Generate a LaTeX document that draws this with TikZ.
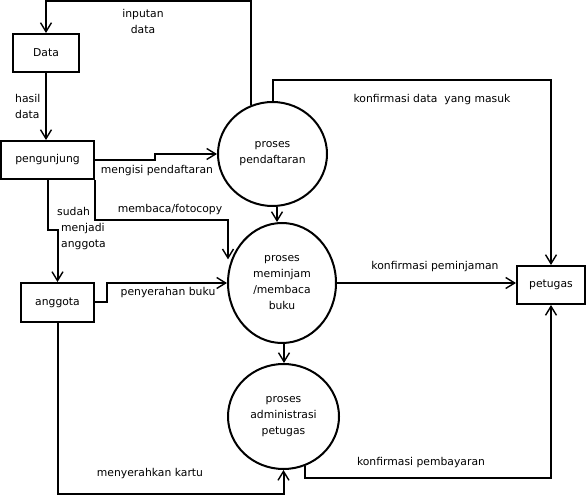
\documentclass[tikz,border=0pt]{standalone}
\usepackage{fontspec}
\setmainfont{DejaVu Sans}
\usetikzlibrary{arrows.meta,shapes.geometric}
\begin{document}
\begin{tikzpicture}[x=1pt,y=-1pt,
  every node/.style={font=\fontsize{10.8}{16}\selectfont, inner sep=0pt},
  ent/.style={draw, line width=2pt, rectangle},
  proc/.style={draw, line width=2pt, ellipse, align=center},
  lbl/.style={align=center},
  flow/.style={line width=2pt, -{Straight Barb[length=9pt,width=11pt,line width=1.4pt]}},
  plain/.style={line width=2pt}]
\useasboundingbox (0,0) rectangle (587,497);
% entities
\node[ent, minimum width=66pt, minimum height=38pt] (data) at (46,53) {Data};
\node[ent, minimum width=93pt, minimum height=38pt] (peng) at (47.5,160) {pengunjung};
\node[ent, minimum width=73pt, minimum height=39pt] (ang) at (57.5,302.5) {anggota};
\node[ent, minimum width=68pt, minimum height=38pt] (pet) at (551,285) {petugas};
% processes
\node[proc, minimum width=109pt, minimum height=104pt] (pend) at (272.5,154) {proses\\pendaftaran};
\node[proc, minimum width=108pt, minimum height=120pt] (minj) at (282,283) {proses\\meminjam\\/membaca\\buku};
\node[proc, minimum width=111pt, minimum height=105pt] (adm) at (283.5,416.5) {proses\\administrasi\\petugas};
% helper coordinates
\coordinate (top) at (0,1);
\coordinate (m1) at (155,160);
\coordinate (c2) at (228,220);
\coordinate (s1) at (48,230);
\coordinate (s2) at (57.5,230);
\coordinate (p1) at (107,302.5);
\coordinate (k1) at (0,80);
\coordinate (v1) at (277,0);
\coordinate (v2) at (284,0);
\coordinate (b1) at (0,478);
\coordinate (b2) at (0,494);
% connectors
\draw[flow] (pend.114) -- (pend.114 |- top) -| (data.north);
\draw[flow] (data.south) -- (data.south |- peng.north);
\draw[flow] (peng.east) -- (m1) |- (pend.west);
\draw[flow] (peng.south east) |- (c2) -- (c2 |- minj.155);
\draw[flow] (s1 |- peng.south) -- (s1) -- (s2) -- (ang.north);
\draw[flow] (ang.east) -- (p1) |- (minj.west);
\draw[flow] (pend.north) -- (pend.north |- k1) -| (pet.north);
\draw[flow] (v1 |- pend.south) -- (v1 |- minj.north);
\draw[flow] (v2 |- minj.south) -- (v2 |- adm.north);
\draw[flow] (minj.east) -- (minj.east -| pet.west);
\draw[flow] (adm.-67) -- (adm.-67 |- b1) -| (pet.south);
\draw[flow] (ang.south) -- (ang.south |- b2) -| (adm.south);
% labels
\node[lbl] (l1) at (143,21) {inputan\\data};
\node[anchor=west, align=left] (l2) at (15,106) {hasil\\data};
\node[lbl] (l3) at (157,171) {mengisi pendaftaran};
\node[lbl] (l4) at (170,210) {membaca/fotocopy};
\node[anchor=west, align=left] (l5) at (57,229) {sudah\\\hspace*{4pt}menjadi\\\hspace*{4pt}anggota};
\node[lbl] (l6) at (168,293) {penyerahan buku};
\node[lbl] (l7) at (432,100) {konfirmasi data~~yang masuk};
\node[lbl] (l8) at (435,267) {konfirmasi peminjaman};
\node[lbl] (l9) at (421,463) {konfirmasi pembayaran};
\node[lbl] (l10) at (150,474) {menyerahkan kartu};
\end{tikzpicture}
\end{document}
